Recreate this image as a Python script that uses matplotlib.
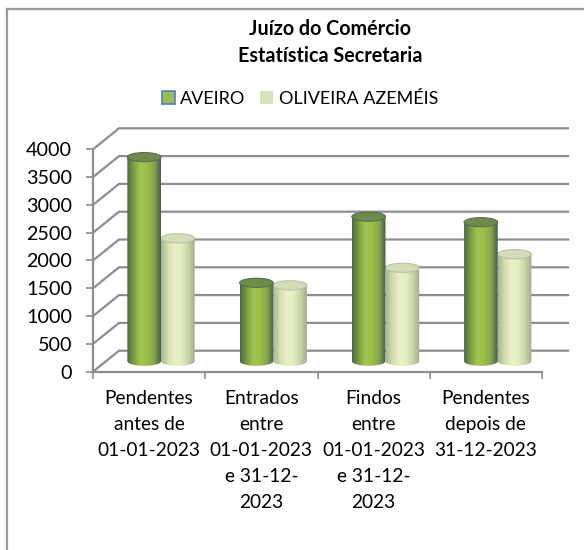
import numpy as np
import matplotlib
matplotlib.use("Agg")
import matplotlib.pyplot as plt
from matplotlib.colors import LinearSegmentedColormap
from matplotlib.patches import Patch, Polygon, Ellipse
from matplotlib.lines import Line2D

plt.rcParams['font.family'] = ['Lato', 'DejaVu Sans']

title = "Juízo do Comércio\nEstatística Secretaria"
categories = ["Pendentes\nantes de\n01-01-2023",
              "Entrados\nentre\n01-01-2023\ne 31-12-\n2023",
              "Findos\nentre\n01-01-2023\ne 31-12-\n2023",
              "Pendentes\ndepois de\n31-12-2023"]
series_names = ["AVEIRO", "OLIVEIRA AZEMÉIS"]
aveiro = [3670, 1410, 2600, 2500]
oliveira = [2210, 1365, 1680, 1925]
yticks = [0, 500, 1000, 1500, 2000, 2500, 3000, 3500, 4000]

W, H = 584, 550
fig = plt.figure(figsize=(W/100, H/100), dpi=100, facecolor='white')
L, R, T, B = 93, 542, 149.3, 371.7
ax = fig.add_axes([L/W, 1-B/H, (R-L)/W, (B-T)/H])

DX = 26 / ((R-L)/4)          # depth in x units
DY = 21 / ((B-T)/4000)       # depth in y units
GRID = '#8e8e8e'

# frame of the chart
fig.add_artist(Line2D([7/W, 7/W], [0, 1-9/H], color='#9a9a9a', lw=1.6))
fig.add_artist(Line2D([7/W, 1], [1-9/H, 1-9/H], color='#9a9a9a', lw=1.6))

# walls
for v in yticks:
    ax.plot([0, DX, 4+DX], [v, v+DY, v+DY], color=GRID, lw=1.6, clip_on=False,
            zorder=1, solid_joinstyle='miter')

cm_a = LinearSegmentedColormap.from_list('a', ['#4f6a48', '#7f9f42', '#a3c650', '#9dbd4c', '#8aa548', '#46604f'])
cm_o = LinearSegmentedColormap.from_list('o', ['#a9b596', '#d3e0b0', '#e9f1c6', '#e5eec3', '#c9d5aa', '#a4ac90'])
grad = np.linspace(0, 1, 64).reshape(1, -1)
BW = 0.30
EH = 165


def cylinder(x0, val, cmap, top, edge, z):
    x0 = x0 + DX/2
    xc = x0 + BW/2
    base = DY/2
    th = np.linspace(0, np.pi, 40)
    xs = np.r_[xc - BW/2*np.cos(th), xc + BW/2*np.cos(th)]
    ys = np.r_[base + val + 0*th, base - EH/2*np.sin(th)]
    im = ax.imshow(grad, cmap=cmap, extent=[x0, x0+BW, base-EH/2, base+val],
                   aspect='auto', zorder=z, clip_on=True, interpolation='bilinear')
    poly = Polygon(np.c_[xs, ys], closed=True, transform=ax.transData, fc='none', ec='none')
    ax.add_patch(poly)
    poly.set_clip_on(False)
    im.set_clip_path(poly)
    ax.add_patch(Ellipse((xc, base+val), BW, EH, fc=top, ec=edge, lw=0.8, zorder=z+0.1, clip_on=False))


for i in range(len(categories)):
    cylinder(i + 0.49, oliveira[i], cm_o, '#d4dcb8', '#b9c2a2', 3 + i*0.01)
    cylinder(i + 0.19, aveiro[i], cm_a, '#6f8a4a', '#55704a', 4 + i*0.01)

ax.set_xlim(0, 4)
ax.set_ylim(0, 4000)
ax.patch.set_alpha(0)
for s in ('top', 'right'):
    ax.spines[s].set_visible(False)
for s in ('left', 'bottom'):
    ax.spines[s].set_color(GRID)
    ax.spines[s].set_linewidth(1.6)
ax.set_yticks(yticks)
ax.tick_params(axis='y', length=5, width=1.2, color=GRID, labelsize=14.2, pad=10, labelcolor='black')
ax.set_xticks(range(5))
ax.set_xticklabels([])
ax.tick_params(axis='x', which='major', length=5, width=1.2, color=GRID)
ax.set_xticks([i + 0.5 for i in range(4)], minor=True)
ax.set_xticklabels(categories, minor=True, fontsize=13.8, linespacing=1.63, va='top')
ax.tick_params(axis='x', which='minor', length=0, pad=13.5)

fig.text(330/W, 1-42.5/H, title, ha='center', va='center', fontsize=14.2, fontweight='bold', linespacing=1.45)

handles = [Patch(fc='#9bbb59', ec='#4f81bd', lw=1.2), Patch(fc='#d7e4bd', ec='none')]
fig.legend(handles, series_names, loc='center', bbox_to_anchor=(300/W, 1-99/H), ncol=2, frameon=False,
           fontsize=13, handlelength=0.72, handleheight=0.72, handletextpad=0.3, columnspacing=0.8,
           borderpad=0, labelspacing=0)

fig.savefig('out.png', dpi=100)
